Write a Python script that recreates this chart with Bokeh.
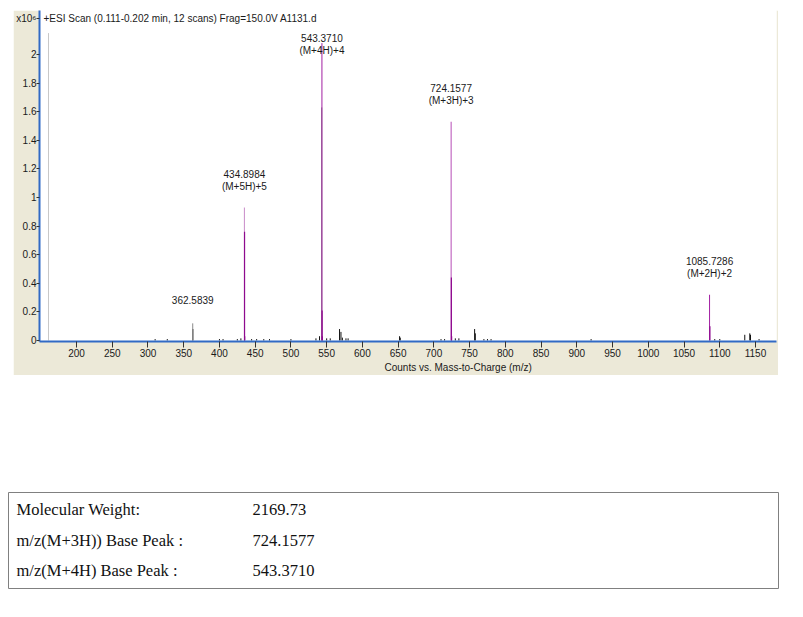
from bokeh.plotting import figure
from bokeh.layouts import column, row, Spacer
from bokeh.models import Range1d, FixedTicker, CustomJSTickFormatter, Label, Title, ColumnDataSource
from bokeh.core.properties import value
from bokeh.embed import file_html
from bokeh.resources import INLINE

# ---------------- data ----------------
title_text = "+ESI Scan (0.111-0.202 min, 12 scans) Frag=150.0V A1131.d"
x_label = "Counts vs. Mass-to-Charge (m/z)"
scale_label = "x10\u2076"
x_ticks = [200, 250, 300, 350, 400, 450, 500, 550, 600, 650, 700, 750, 800, 850, 900, 950, 1000, 1050, 1100, 1150]
y_ticks = [0, 0.2, 0.4, 0.6, 0.8, 1.0, 1.2, 1.4, 1.6, 1.8, 2.0]

# annotated peaks (intensity in counts x10^6)
peak_mz = [362.5839, 434.8984, 543.3710, 724.1577, 1085.7286]
peak_int = [0.12, 0.93, 2.08, 1.53, 0.32]
peak_ion = ["", "(M+5H)+5", "(M+4H)+4", "(M+3H)+3", "(M+2H)+2"]
peak_color = ["#8a8a8a", "#c98bc9", "#a21fa2", "#b64db6", "#a21fa2"]

# isotope peaks of the annotated ions
iso_mz = [435.10, 435.30, 543.62, 543.87, 724.49, 724.82, 1086.23]
iso_int = [0.76, 0.03, 0.21, 0.03, 0.44, 0.03, 0.10]

# other (unannotated) peaks
minor_mz = [160.8, 310, 327, 362.78, 400, 405, 425, 430, 445, 452, 462, 470, 500, 535, 540, 543.12,
            550, 555, 568, 570, 572, 577, 580, 652, 653, 710, 715, 730, 735, 757, 758,
            770, 775, 780, 920, 1093, 1100, 1135, 1142, 1143, 1155]
minor_int = [2.15, 0.01, 0.01, 0.08, 0.01, 0.01, 0.01, 0.015, 0.01, 0.01, 0.01, 0.01, 0.01, 0.015, 0.03, 1.63,
             0.015, 0.015, 0.08, 0.06, 0.02, 0.015, 0.015, 0.03, 0.02, 0.01, 0.01, 0.015, 0.015, 0.08, 0.05,
             0.01, 0.01, 0.01, 0.01, 0.01, 0.01, 0.04, 0.05, 0.04, 0.01]
minor_color = ["#c8c8c8"] + ["#111111"] * 14 + ["#7a7a7a"] + ["#111111"] * 25

table_labels = ["Molecular Weight:", "m/z(M+3H)) Base Peak :", "m/z(M+4H) Base Peak :"]
table_values = ["2169.73", "724.1577", "543.3710"]

# ---------------- chart ----------------
FONT = "Liberation Sans"
FS = "10px"
TXT = "#1a1a1a"
BLUE = "#316ac5"
X0, X1 = 148.2, 1179.4
Y0, Y1 = -0.007, 2.308
SCALE_Y = 2.25

p = figure(width=765, height=365, output_backend="svg", toolbar_location=None,
           x_range=Range1d(X0, X1), y_range=Range1d(Y0, Y1),
           min_border_left=20, min_border_right=2, min_border_top=0, min_border_bottom=34)
p.border_fill_color = "#ece9d8"
p.background_fill_color = "white"
p.outline_line_color = None
p.grid.visible = False

p.xaxis.ticker = FixedTicker(ticks=x_ticks)
p.yaxis.ticker = FixedTicker(ticks=y_ticks + [SCALE_Y])
p.yaxis.formatter = CustomJSTickFormatter(
    args=dict(top=SCALE_Y, lab=scale_label),
    code="if (Math.abs(tick - top) < 1e-6) { return lab; } return String(Math.round(tick * 10) / 10);")
for ax in (p.xaxis, p.yaxis):
    ax.axis_line_color = BLUE
    ax.axis_line_width = 2
    ax.major_tick_line_color = "#333333"
    ax.minor_tick_line_color = None
    ax.major_tick_in = 0
    ax.major_label_text_font = FONT
    ax.major_label_text_font_size = FS
    ax.major_label_text_color = TXT
p.xaxis.major_tick_out = 6
p.xaxis.major_label_standoff = 1
p.yaxis.major_tick_out = 3
p.yaxis.major_label_standoff = 0

# x axis title, placed below the tick labels
p.add_layout(Title(text=x_label, align="left", offset=345, text_font=FONT, text_font_size=FS,
                   text_font_style="normal", text_color=TXT, standoff=0), "below")

# peaks
p.segment(x0=minor_mz, y0=0, x1=minor_mz, y1=minor_int, line_color=minor_color, line_width=1)
p.segment(x0=peak_mz, y0=0, x1=peak_mz, y1=peak_int, line_color=peak_color, line_width=1)
p.segment(x0=iso_mz, y0=0, x1=iso_mz, y1=iso_int, line_color="#8e0a8e", line_width=1.2)

# peak labels
cap = 1.88
lab_y = [min(v, cap) for v in peak_int]
mass_txt = ["%.4f" % m for m in peak_mz]
off1 = [-23 if ion == "" else -34 for ion in peak_ion]
src = ColumnDataSource(dict(x=peak_mz, y=lab_y, t=mass_txt, ion=peak_ion, off=off1))
p.text(x="x", y="y", text="t", y_offset="off", source=src, text_align="center",
       text_baseline="middle", text_font=value(FONT), text_font_size=FS, text_color=TXT)
p.text(x="x", y="y", text="ion", y_offset=-21, source=src, text_align="center",
       text_baseline="middle", text_font=value(FONT), text_font_size=FS, text_color=TXT)

def px2x(px):
    return X0 + (px - 40) / 0.71368

p.add_layout(Label(x=px2x(44), y=SCALE_Y, text=title_text, text_align="left", text_baseline="middle",
                   text_font=FONT, text_font_size=FS, text_color=TXT))

# ---------------- table ----------------
t = figure(width=772, height=98, output_backend="svg", toolbar_location=None,
           x_range=Range1d(0, 770), y_range=Range1d(96, 0), min_border=1)
t.axis.visible = False
t.grid.visible = False
t.outline_line_color = "#808080"
t.outline_line_width = 1
t.border_fill_color = "white"
row_y = [17, 48, 78]
t.text(x=[8] * 3, y=row_y, text=table_labels, text_baseline="middle", text_font=value("Liberation Serif"),
       text_font_size="16.5px", text_color="#111111")
t.text(x=[244] * 3, y=row_y, text=table_values, text_baseline="middle", text_font=value("Liberation Serif"),
       text_font_size="16.5px", text_color="#111111")

layout = column(Spacer(height=10), row(Spacer(width=13), p), Spacer(height=116),
                row(Spacer(width=7), t), spacing=0)
open("out.html", "w").write(file_html(layout, INLINE))
